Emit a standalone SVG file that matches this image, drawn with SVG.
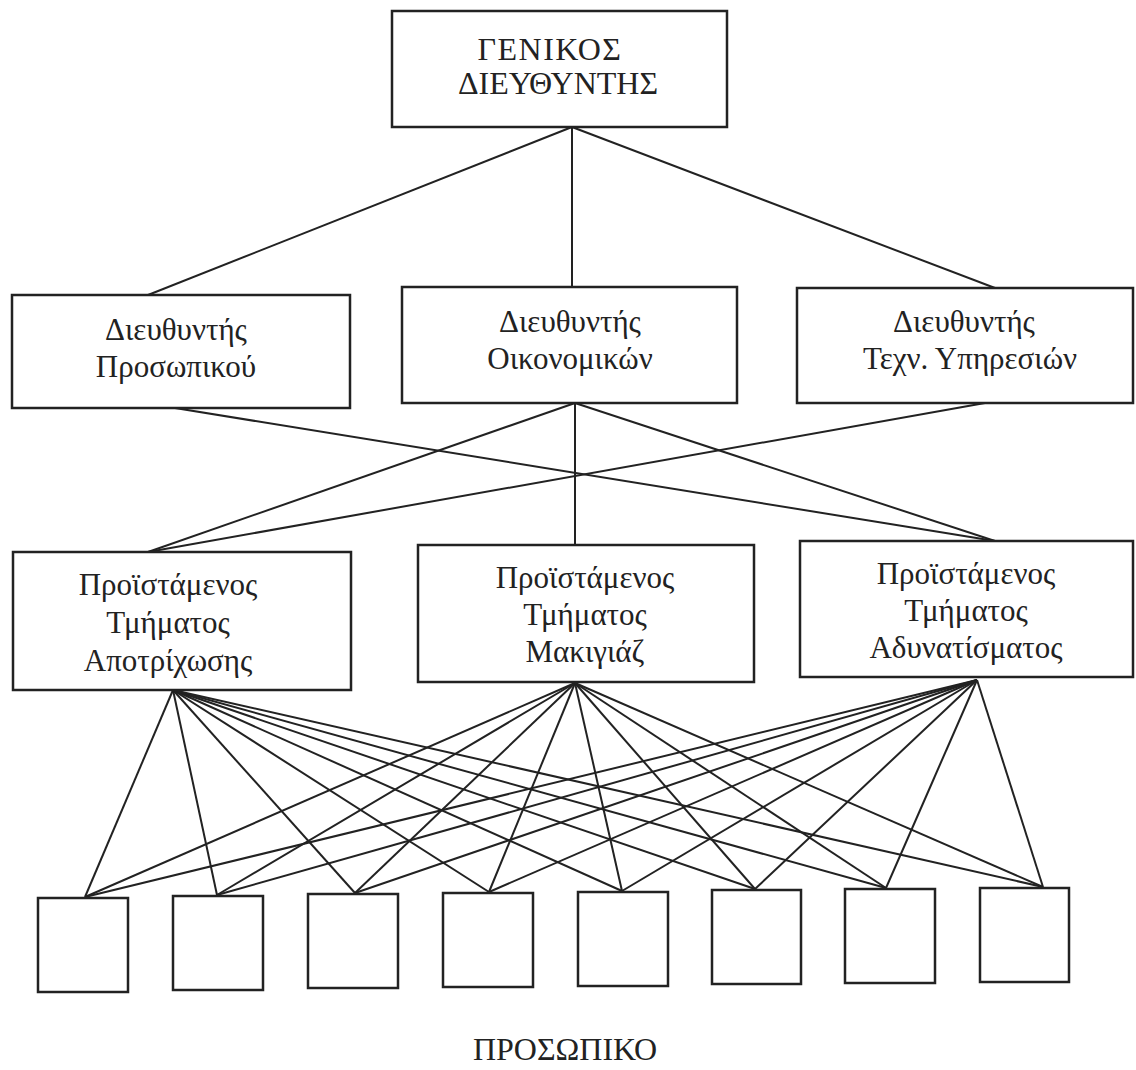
<svg xmlns="http://www.w3.org/2000/svg" width="1136" height="1070" viewBox="0 0 1136 1070">
<style>
.box{fill:#fff;stroke:#222;stroke-width:2.5}
.ln{stroke:#222;stroke-width:2;fill:none}
.t{font-family:"Liberation Serif","DejaVu Serif",serif;font-size:31px;fill:#222;text-anchor:middle}
.cap{font-family:"Liberation Serif","DejaVu Serif",serif;font-size:32px;fill:#222;text-anchor:middle}
</style>
<rect width="1136" height="1070" fill="#fff"/>
<g id="connectors" class="ln">
<line x1="572" y1="127" x2="148" y2="295"/>
<line x1="572" y1="127" x2="572" y2="287"/>
<line x1="572" y1="127" x2="995" y2="288"/>
<line x1="175" y1="408" x2="995" y2="541"/>
<line x1="575" y1="403" x2="148" y2="552"/>
<line x1="575" y1="403" x2="575" y2="545"/>
<line x1="575" y1="403" x2="995" y2="541"/>
<line x1="985" y1="403" x2="148" y2="552"/>
<g id="fan-left">
<line x1="173" y1="690" x2="85" y2="897"/>
<line x1="173" y1="690" x2="217" y2="895"/>
<line x1="173" y1="690" x2="355" y2="893"/>
<line x1="173" y1="690" x2="489" y2="892"/>
<line x1="173" y1="690" x2="622" y2="891"/>
<line x1="173" y1="690" x2="755" y2="889"/>
<line x1="173" y1="690" x2="886" y2="888"/>
<line x1="173" y1="690" x2="1043" y2="887"/>
</g>
<g id="fan-mid">
<line x1="575" y1="683" x2="85" y2="897"/>
<line x1="575" y1="683" x2="217" y2="895"/>
<line x1="575" y1="683" x2="355" y2="893"/>
<line x1="575" y1="683" x2="489" y2="892"/>
<line x1="575" y1="683" x2="622" y2="891"/>
<line x1="575" y1="683" x2="755" y2="889"/>
<line x1="575" y1="683" x2="886" y2="888"/>
<line x1="575" y1="683" x2="1043" y2="887"/>
</g>
<g id="fan-right">
<line x1="977" y1="680" x2="85" y2="897"/>
<line x1="977" y1="680" x2="217" y2="895"/>
<line x1="977" y1="680" x2="355" y2="893"/>
<line x1="977" y1="680" x2="489" y2="892"/>
<line x1="977" y1="680" x2="622" y2="891"/>
<line x1="977" y1="680" x2="755" y2="889"/>
<line x1="977" y1="680" x2="886" y2="888"/>
<line x1="977" y1="680" x2="1043" y2="887"/>
</g>
</g>
<g id="gm">
<rect class="box" x="392" y="11" width="335" height="116"/>
<text class="cap" x="550" y="60" font-size="35" letter-spacing="1.5">ΓΕΝΙΚΟΣ</text>
<text class="cap" x="558" y="94">ΔΙΕΥΘΥΝΤΗΣ</text>
</g>
<g id="d-hr">
<rect class="box" x="12" y="295" width="338" height="113"/>
<text class="t" x="176" y="340">Διευθυντής</text>
<text class="t" x="176" y="377">Προσωπικού</text>
</g>
<g id="d-fin">
<rect class="box" x="402" y="287" width="335" height="116"/>
<text class="t" x="570" y="332">Διευθυντής</text>
<text class="t" x="570" y="369">Οικονομικών</text>
</g>
<g id="d-tech">
<rect class="box" x="797" y="288" width="336" height="115"/>
<text class="t" x="964" y="332">Διευθυντής</text>
<text class="t" x="970" y="369">Τεχν. Υπηρεσιών</text>
</g>
<g id="s-hair">
<rect class="box" x="13" y="552" width="338" height="138"/>
<text class="t" x="168" y="595">Προϊστάμενος</text>
<text class="t" x="168" y="633">Τμήματος</text>
<text class="t" x="168" y="671">Αποτρίχωσης</text>
</g>
<g id="s-makeup">
<rect class="box" x="418" y="545" width="336" height="137"/>
<text class="t" x="585" y="588">Προϊστάμενος</text>
<text class="t" x="585" y="625">Τμήματος</text>
<text class="t" x="585" y="662">Μακιγιάζ</text>
</g>
<g id="s-slim">
<rect class="box" x="800" y="541" width="333" height="136"/>
<text class="t" x="966" y="584">Προϊστάμενος</text>
<text class="t" x="966" y="621">Τμήματος</text>
<text class="t" x="966" y="658">Αδυνατίσματος</text>
</g>
<g id="p1"><rect class="box" x="38" y="898" width="90" height="94"/></g>
<g id="p2"><rect class="box" x="173" y="896" width="90" height="94"/></g>
<g id="p3"><rect class="box" x="308" y="894" width="90" height="94"/></g>
<g id="p4"><rect class="box" x="443" y="893" width="90" height="94"/></g>
<g id="p5"><rect class="box" x="578" y="892" width="90" height="94"/></g>
<g id="p6"><rect class="box" x="712" y="890" width="89" height="94"/></g>
<g id="p7"><rect class="box" x="845" y="889" width="90" height="94"/></g>
<g id="p8"><rect class="box" x="980" y="888" width="89" height="94"/></g>
<text class="cap" x="565" y="1060">ΠΡΟΣΩΠΙΚΟ</text>
</svg>
